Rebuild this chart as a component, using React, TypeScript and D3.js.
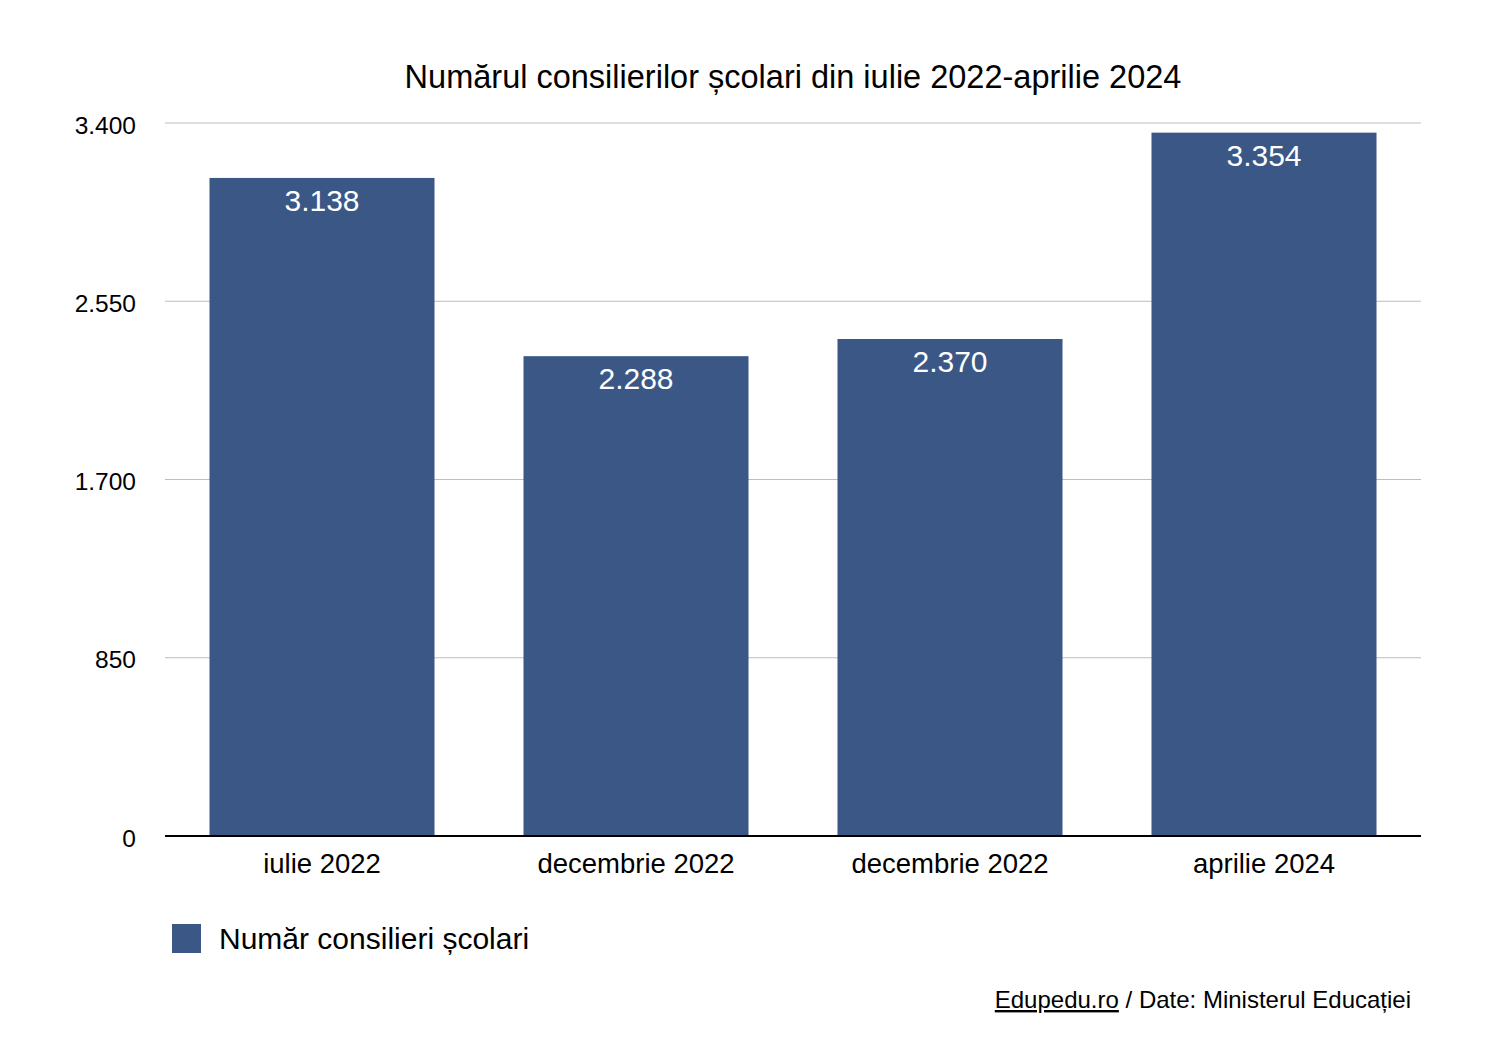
import React from "react";
import * as d3 from "d3";

const categories = ["iulie 2022", "decembrie 2022", "decembrie 2022 ", "aprilie 2024"];
const categoryLabels = ["iulie 2022", "decembrie 2022", "decembrie 2022", "aprilie 2024"];
const values = [3138, 2288, 2370, 3354];
const yTicks = [0, 850, 1700, 2550, 3400];
const seriesName = "Număr consilieri școlari";
const title = "Numărul consilierilor școlari din iulie 2022-aprilie 2024";

const W = 1509;
const H = 1042;
const FONT = "'Liberation Sans', Arial, Helvetica, sans-serif";
const BAR = "#3A5786";

const fmt = (v: number) => {
  const s = String(v);
  return s.replace(/\B(?=(\d{3})+(?!\d))/g, ".");
};

export default function App() {
  const x = d3
    .scaleBand<string>()
    .domain(categories)
    .range([165, 1421])
    .paddingInner(0.2834)
    .paddingOuter(0.1417);
  const y = d3.scaleLinear().domain([0, 3400]).range([836, 123]);

  return (
    <svg
      width={W}
      height={H}
      style={{ position: "absolute", left: 0, top: 0, background: "#fff" }}
      fontFamily={FONT}
    >
      <rect width={W} height={H} fill="#fff" />
      <text x={793} y={88} textAnchor="middle" fontSize={32.5} fill="#000">
        {title}
      </text>
      {yTicks.map((t) => (
        <g key={t}>
          {t > 0 && (
            <line x1={165} x2={1421} y1={y(t)} y2={y(t)} stroke="#bdbdbd" strokeWidth={1} />
          )}
          <text x={136} y={y(t) + 10.5} textAnchor="end" fontSize={24.5} fill="#000">
            {fmt(t)}
          </text>
        </g>
      ))}
      {categories.map((c, i) => (
        <g key={c}>
          <rect
            x={x(c)}
            y={y(values[i])}
            width={x.bandwidth()}
            height={y(0) - y(values[i])}
            fill={BAR}
          />
          <text
            x={(x(c) as number) + x.bandwidth() / 2}
            y={y(values[i]) + 33}
            textAnchor="middle"
            fontSize={30}
            fill="#fff"
          >
            {fmt(values[i])}
          </text>
          <text
            x={(x(c) as number) + x.bandwidth() / 2}
            y={873}
            textAnchor="middle"
            fontSize={27.5}
            fill="#000"
          >
            {categoryLabels[i]}
          </text>
        </g>
      ))}
      <line x1={165} x2={1421} y1={836} y2={836} stroke="#000" strokeWidth={2} />
      <rect x={172} y={924} width={29} height={29} fill={BAR} />
      <text x={219} y={949} fontSize={30} fill="#000">
        {seriesName}
      </text>
      <text x={1411} y={1008} textAnchor="end" fontSize={24} fill="#000">
        <tspan textDecoration="underline">Edupedu.ro</tspan>
        <tspan> / Date: Ministerul Educației</tspan>
      </text>
    </svg>
  );
}
